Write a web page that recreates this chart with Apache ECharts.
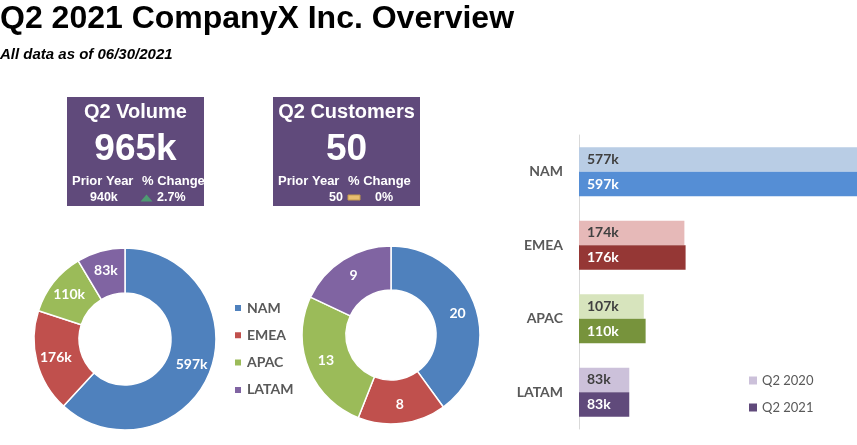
<!DOCTYPE html>
<html>
<head>
<meta charset="utf-8">
<script src="https://cdn.jsdelivr.net/npm/echarts@6/dist/echarts.min.js"></script>
<style>
html,body{margin:0;padding:0;background:#fff;}
#chart{width:857px;height:445px;}
</style>
</head>
<body>
<div id="chart"></div>
<script>
// ---- data ----
const regions = ['NAM', 'EMEA', 'APAC', 'LATAM'];
const volume2021 = [597, 176, 110, 83];      // k
const volume2020 = [577, 174, 107, 83];      // k
const customers2021 = [20, 8, 13, 9];
const kpiTitles = ['Q2 Volume', 'Q2 Customers'];
const kpiValues = ['965k', '50'];
const kpiPrior = ['940k', '50'];
const kpiChange = ['2.7%', '0%'];
const barSeriesNames = ['Q2 2020', 'Q2 2021'];
const titleText = 'Q2 2021 CompanyX Inc. Overview';
const subtitleText = 'All data as of 06/30/2021';

// ---- styles ----
const donutColors = ['#4F81BD', '#C0504D', '#9BBB59', '#8064A2'];
const lightColors = ['#B9CDE5', '#E6B9B8', '#D7E4BD', '#CCC1DA'];
const darkColors = ['#558ED5', '#953735', '#77933C', '#604A7B'];
const kpiBg = '#604A7B';
const AR = '"Liberation Sans", Arial, sans-serif';
const LT = 'Lato, "Open Sans", sans-serif';

function txt(text, x, y, font, align, fill) {
  return {
    type: 'text', x: x, y: y, silent: true,
    style: { text: text, font: font, fill: fill || '#fff',
      textAlign: align || 'center', textVerticalAlign: 'middle',
      align: align || 'center', verticalAlign: 'middle' }
  };
}

const boxes = [
  { x: 67, y: 97, w: 137, h: 109 },
  { x: 273, y: 97, w: 147, h: 109 }
];
const graphics = [];
graphics.push(txt(titleText, 0, 19.5, 'bold 32px ' + AR, 'left', '#000'));
graphics.push(txt(subtitleText, 0, 54.5, 'italic bold 15px ' + AR, 'left', '#000'));
boxes.forEach(function (b, i) {
  const cx = b.x + b.w / 2;
  graphics.push({ type: 'rect', silent: true, shape: { x: b.x, y: b.y, width: b.w, height: b.h }, style: { fill: kpiBg } });
  graphics.push(txt(kpiTitles[i], cx, 112, 'bold 20px ' + AR, 'center'));
  graphics.push(txt(kpiValues[i], cx, 150, 'bold 37px ' + AR, 'center'));
  graphics.push(txt('Prior Year', b.x + 5, 181, 'bold 13px ' + AR, 'left'));
  graphics.push(txt('% Change', b.x + 75, 181, 'bold 13px ' + AR, 'left'));
});
// KPI 1 bottom row
graphics.push(txt(kpiPrior[0], 90, 197.5, 'bold 12.5px ' + AR, 'left'));
graphics.push({ type: 'polygon', silent: true, shape: { points: [[140.5, 201.5], [152.5, 201.5], [146.5, 194.5]] }, style: { fill: '#4E9A72' } });
graphics.push(txt(kpiChange[0], 157, 197.5, 'bold 12.5px ' + AR, 'left'));
// KPI 2 bottom row
graphics.push(txt(kpiPrior[1], 343, 197.5, 'bold 12.5px ' + AR, 'right'));
graphics.push({ type: 'rect', silent: true, shape: { x: 348, y: 195, width: 12, height: 5 }, style: { fill: '#E8BE70', stroke: '#C49A4C', lineWidth: 1 } });
graphics.push(txt(kpiChange[1], 375, 197.5, 'bold 12.5px ' + AR, 'left'));

const chart = echarts.init(document.getElementById('chart'), null, { renderer: 'canvas' });

const pieLabel = { show: true, position: 'inside', color: '#fff', fontFamily: LT, fontWeight: 'bold', fontSize: 14 };

chart.setOption({
  animation: false,
  color: donutColors,
  graphic: graphics,
  legend: [
    {
      data: regions, orient: 'vertical', left: 233, top: 301, itemGap: 13.3, padding: 0,
      itemWidth: 8, itemHeight: 8, icon: 'rect', selectedMode: false,
      textStyle: { color: '#595959', fontFamily: LT, fontWeight: 'bold', fontSize: 14 }
    },
    {
      data: barSeriesNames, orient: 'vertical', left: 749, top: 374, itemGap: 14, padding: 0,
      itemWidth: 8, itemHeight: 8, icon: 'rect', selectedMode: false,
      textStyle: { color: '#595959', fontFamily: LT, fontSize: 13 }
    }
  ],
  grid: { left: 579, top: 135, height: 294, right: 0, containLabel: false },
  xAxis: { type: 'value', min: 0, max: 459, show: false },
  yAxis: {
    type: 'category', data: regions, inverse: true,
    axisLine: { show: true, lineStyle: { color: '#D9D9D9', width: 1 } },
    axisTick: { show: false },
    axisLabel: { color: '#595959', fontFamily: LT, fontWeight: 'bold', fontSize: 14, margin: 16 }
  },
  series: [
    {
      type: 'pie', name: 'Volume', center: [125, 339], radius: [46, 91],
      startAngle: 90, clockwise: true, avoidLabelOverlap: false,
      itemStyle: { borderColor: '#fff', borderWidth: 1.5 },
      label: Object.assign({}, pieLabel, { formatter: '{c}k' }),
      labelLine: { show: false },
      data: regions.map(function (r, i) { return { name: r, value: volume2021[i] }; })
    },
    {
      type: 'pie', name: 'Customers', center: [391, 335], radius: [45, 89],
      startAngle: 90, clockwise: true, avoidLabelOverlap: false,
      itemStyle: { borderColor: '#fff', borderWidth: 1.5 },
      label: Object.assign({}, pieLabel, { formatter: '{c}' }),
      labelLine: { show: false },
      data: regions.map(function (r, i) { return { name: r, value: customers2021[i] }; })
    },
    {
      type: 'bar', name: barSeriesNames[0], barGap: 0, barCategoryGap: '33%', clip: true,
      itemStyle: { color: lightColors[3] },
      label: { show: true, position: 'insideLeft', distance: 8, formatter: '{c}k', color: '#404040', fontFamily: LT, fontWeight: 'bold', fontSize: 14 },
      data: volume2020.map(function (v, i) { return { value: v, itemStyle: { color: lightColors[i] } }; })
    },
    {
      type: 'bar', name: barSeriesNames[1], barGap: 0, barCategoryGap: '33%', clip: true,
      itemStyle: { color: darkColors[3] },
      label: { show: true, position: 'insideLeft', distance: 8, formatter: '{c}k', color: '#fff', fontFamily: LT, fontWeight: 'bold', fontSize: 14 },
      data: volume2021.map(function (v, i) { return { value: v, itemStyle: { color: darkColors[i] } }; })
    }
  ]
});
</script>
</body>
</html>
